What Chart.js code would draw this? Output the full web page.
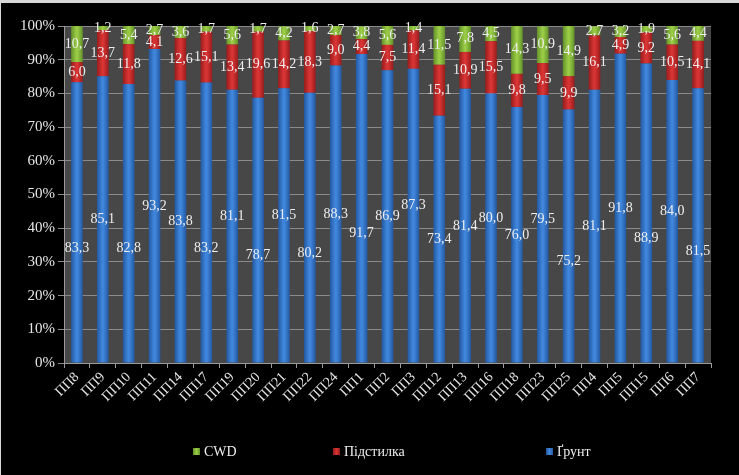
<!DOCTYPE html>
<html><head><meta charset="utf-8">
<script src="https://cdn.jsdelivr.net/npm/chart.js@4"></script>
<style>
html,body{margin:0;padding:0;background:#000;}
#wrap{width:739px;height:475px;box-sizing:border-box;border-top:3px solid #d8d8d8;border-left:1px solid #d8d8d8;background:#000;overflow:hidden;}
canvas{display:block;}
</style></head><body>
<div id="wrap"><canvas id="c" width="738" height="472"></canvas></div>
<script>
const categories = ['ПП8','ПП9','ПП10','ПП11','ПП14','ПП17','ПП19','ПП20','ПП21','ПП22','ПП24','ПП1','ПП2','ПП3','ПП12','ПП13','ПП16','ПП18','ПП23','ПП25','ПП4','ПП5','ПП15','ПП6','ПП7'];
const gruntValues = [83.3,85.1,82.8,93.2,83.8,83.2,81.1,78.7,81.5,80.2,88.3,91.7,86.9,87.3,73.4,81.4,80.0,76.0,79.5,75.2,81.1,91.8,88.9,84.0,81.5];
const pidstylkaValues = [6.0,13.7,11.8,4.1,12.6,15.1,13.4,19.6,14.2,18.3,9.0,4.4,7.5,11.4,15.1,10.9,15.5,9.8,9.5,9.9,16.1,4.9,9.2,10.5,14.1];
const cwdValues = [10.7,1.2,5.4,2.7,3.6,1.7,5.6,1.7,4.2,1.6,2.7,3.8,5.6,1.4,11.5,7.8,4.5,14.3,10.9,14.9,2.7,3.2,1.9,5.6,4.4];
const seriesNames = ['Ґрунт','Підстилка','CWD'];
const yTicks = [0,10,20,30,40,50,60,70,80,90,100];

// label layout: which Ґрунт labels were moved down / up to avoid overlaps (as in the original)
const loweredGruntLabels = ['ПП8','ПП10','ПП17','ПП20','ПП22','ПП1','ПП25','ПП15','ПП7'];
const raisedGruntLabels = ['ПП19','ПП21','ПП3','ПП16','ПП23','ПП6'];

const palette = [
  {base:'#3f86dc', edge:'#2458a0'},
  {base:'#d83434', edge:'#981c1c'},
  {base:'#9acb45', edge:'#62922a'}
];
const BAR_FRACTION = 0.9 * 0.5;
const SERIF = '"Liberation Serif", "Times New Roman", serif';

function barFill(p) {
  return (c) => {
    const chart = c.chart;
    const xs = chart.scales.x;
    if (!xs || c.type !== 'data' || !chart.chartArea) return p.base;
    const x = xs.getPixelForValue(c.dataIndex);
    const w = (xs.width / categories.length) * BAR_FRACTION;
    const g = chart.ctx.createLinearGradient(x - w / 2, 0, x + w / 2, 0);
    g.addColorStop(0, p.edge);
    g.addColorStop(0.45, p.base);
    g.addColorStop(0.55, p.base);
    g.addColorStop(1, p.edge);
    return g;
  };
}

const plotBg = {
  id: 'plotBg',
  beforeDraw(chart) {
    const {ctx, chartArea: a} = chart;
    ctx.save();
    ctx.fillStyle = '#474747';
    ctx.fillRect(a.left, a.top, a.right - a.left, a.bottom - a.top);
    ctx.restore();
  }
};

const valueLabels = {
  id: 'valueLabels',
  afterDatasetsDraw(chart) {
    const ctx = chart.ctx;
    const ys = chart.scales.y;
    ctx.save();
    ctx.font = '14px ' + SERIF;
    ctx.fillStyle = '#ededed';
    ctx.textAlign = 'center';
    ctx.textBaseline = 'middle';
    chart.data.datasets.forEach((ds, di) => {
      const meta = chart.getDatasetMeta(di);
      let cum = 0;
      meta.data.forEach((bar, i) => {
        const v = ds.data[i];
        const txt = v.toFixed(1).replace('.', ',');
        let y = (bar.y + bar.base) / 2;
        if (di === 0) {
          let mid = v / 2;
          const cat = categories[i];
          if (loweredGruntLabels.includes(cat)) mid -= 7.5;
          else if (raisedGruntLabels.includes(cat)) mid += 3;
          y = ys.getPixelForValue(mid);
        }
        ctx.fillText(txt, bar.x, y);
      });
    });
    ctx.restore();
  }
};

const bottomLegend = {
  id: 'bottomLegend',
  afterDraw(chart) {
    const ctx = chart.ctx;
    const xs = [192, 332, 545];
    const y = 449;
    ctx.save();
    ctx.font = '14px ' + SERIF;
    ctx.textBaseline = 'middle';
    ctx.textAlign = 'left';
    const order = [2, 1, 0];
    order.forEach((di, k) => {
      const p = palette[di];
      const g = ctx.createLinearGradient(xs[k], 0, xs[k] + 7, 0);
      g.addColorStop(0, p.edge); g.addColorStop(0.5, p.base); g.addColorStop(1, p.edge);
      ctx.fillStyle = g;
      ctx.fillRect(xs[k], y - 4, 7, 7);
      ctx.fillStyle = '#ededed';
      ctx.fillText(chart.data.datasets[di].label, xs[k] + 11, y);
    });
    ctx.restore();
  }
};

const datasets = [gruntValues, pidstylkaValues, cwdValues].map((vals, i) => ({
  label: seriesNames[i],
  data: vals,
  backgroundColor: barFill(palette[i]),
  borderWidth: 0,
  categoryPercentage: 0.9,
  barPercentage: 0.5
}));

new Chart(document.getElementById('c'), {
  type: 'bar',
  data: {labels: categories, datasets},
  options: {
    responsive: false,
    animation: false,
    devicePixelRatio: 1,
    layout: {padding: {left: 0, right: 28, top: 23, bottom: 42}},
    plugins: {legend: {display: false}, tooltip: {enabled: false}},
    scales: {
      x: {
        stacked: true,
        grid: {display: true, drawOnChartArea: false, drawTicks: true, tickLength: 5, color: '#9a9a9a', offset: true},
        border: {display: true, color: '#9a9a9a'},
        ticks: {color: '#e6e6e6', font: {family: SERIF, size: 14}, minRotation: 45, maxRotation: 45, autoSkip: false, padding: 1},
        afterFit(s) { s.height = 70; }
      },
      y: {
        stacked: true,
        min: 0, max: 100,
        afterBuildTicks(s) { s.ticks = yTicks.map(v => ({value: v})); },
        grid: {color: '#8a8a8a', tickLength: 6, drawTicks: true},
        border: {display: true, color: '#9a9a9a'},
        ticks: {color: '#e6e6e6', font: {family: SERIF, size: 15}, padding: 3, callback: v => v + '%'},
        afterFit(s) { s.width = 63; }
      }
    }
  },
  plugins: [plotBg, valueLabels, bottomLegend]
});
</script>
</body></html>
